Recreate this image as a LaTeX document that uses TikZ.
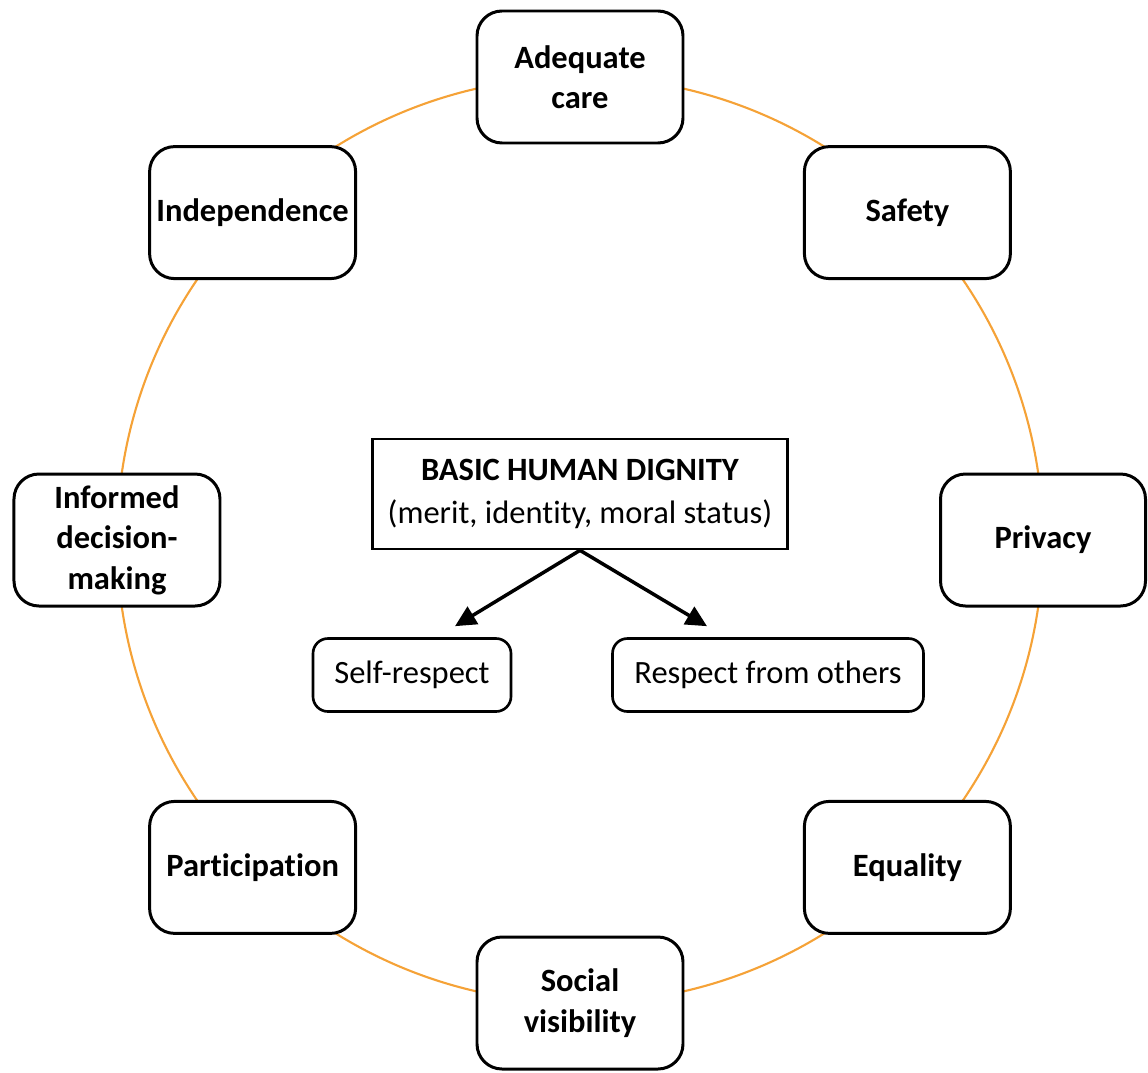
\documentclass[tikz,border=0pt]{standalone}
\usepackage{fontspec}
\setmainfont{Carlito}[Ligatures=NoCommon]
\usetikzlibrary{arrows.meta}
\definecolor{ringorange}{RGB}{245,162,55}
\begin{document}
\begin{tikzpicture}[
    value/.style={draw, rounded corners=0.5cm, line width=1.7pt, fill=white, align=center,
        minimum width=4.12cm, minimum height=2.64cm, font=\fontsize{18.5}{23}\selectfont\bfseries},
    respect/.style={draw, rounded corners=0.3cm, line width=1.5pt, fill=white,
        minimum height=1.46cm, font=\fontsize{18.5}{23}\selectfont}
]
    \useasboundingbox (-11.6,-10.64) rectangle (11.36,10.8);

    % Ring
    \draw[ringorange, line width=1.2pt] (0,0) circle (9.26);

    % Values around the ring
    \node[value] (care) at (90:9.26) {Adequate\\care};
    \node[value] (safety) at (45:9.26) {Safety};
    \node[value, minimum width=4.1cm] (privacy) at (0:9.26) {Privacy};
    \node[value] (equality) at (-45:9.26) {Equality};
    \node[value] (visibility) at (-90:9.26) {Social\\visibility};
    \node[value] (participation) at (-135:9.26) {Participation};
    \node[value] (decision) at (180:9.26) {Informed\\decision-\\making};
    \node[value] (independence) at (135:9.26) {Independence};

    % Centre
    \node[draw, line width=1.5pt, align=center, minimum width=8.3cm, minimum height=2.2cm,
        font=\fontsize{18.5}{24.5}\selectfont] (dignity) at (0,0.92) {%
        \textbf{BASIC HUMAN DIGNITY}\\
        (merit, identity, moral status)
    };
    \node[respect, minimum width=3.96cm] (self) at (-3.36,-2.7) {Self-respect};
    \node[respect, minimum width=6.22cm] (others) at (3.76,-2.7) {Respect from others};

    % Arrows
    \draw[-{Triangle[width=0.4cm, length=0.42cm]}, line width=2pt]
        (dignity.south) -- ([xshift=0.86cm, yshift=0.22cm]self.north);
    \draw[-{Triangle[width=0.4cm, length=0.42cm]}, line width=2pt]
        (dignity.south) -- ([xshift=-1.22cm, yshift=0.22cm]others.north);

\end{tikzpicture}
\end{document}
